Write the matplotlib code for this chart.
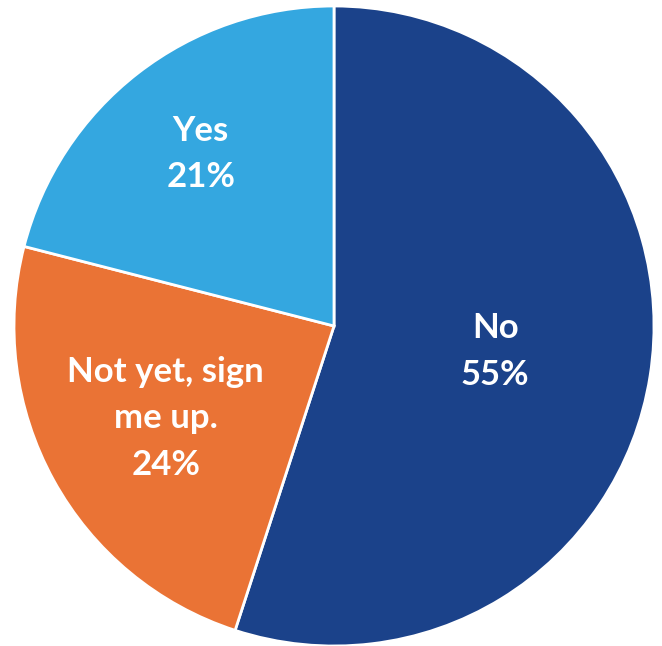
import matplotlib
matplotlib.use('Agg')
import matplotlib.pyplot as plt
import numpy as np

labels = ['No', 'Not yet, sign\nme up.', 'Yes']
shares = [55, 24, 21]
colors = ['#1B428A', '#EA7335', '#34A7E0']
# how far out from the centre each label sits (fraction of radius)
label_radius = [0.51, 0.60, 0.68]

fig = plt.figure(figsize=(6.62, 6.46), dpi=100)
ax = fig.add_axes([14 / 662, 0 / 646, 640 / 662, 640 / 646])

wedges, _ = ax.pie(shares, colors=colors, startangle=90, counterclock=False,
                   radius=1.0, wedgeprops=dict(edgecolor='white', linewidth=2))

for w, lab, val, rr in zip(wedges, labels, shares, label_radius):
    mid = np.deg2rad((w.theta1 + w.theta2) / 2)
    ax.text(rr * np.cos(mid), rr * np.sin(mid), f'{lab}\n{val}%',
            ha='center', va='center', color='white', fontsize=25,
            fontweight='bold', family='Lato', linespacing=1.55)

ax.set_xlim(-1, 1)
ax.set_ylim(-1, 1)
ax.set_aspect('equal')
ax.axis('off')

fig.savefig('out.png', dpi=100)
